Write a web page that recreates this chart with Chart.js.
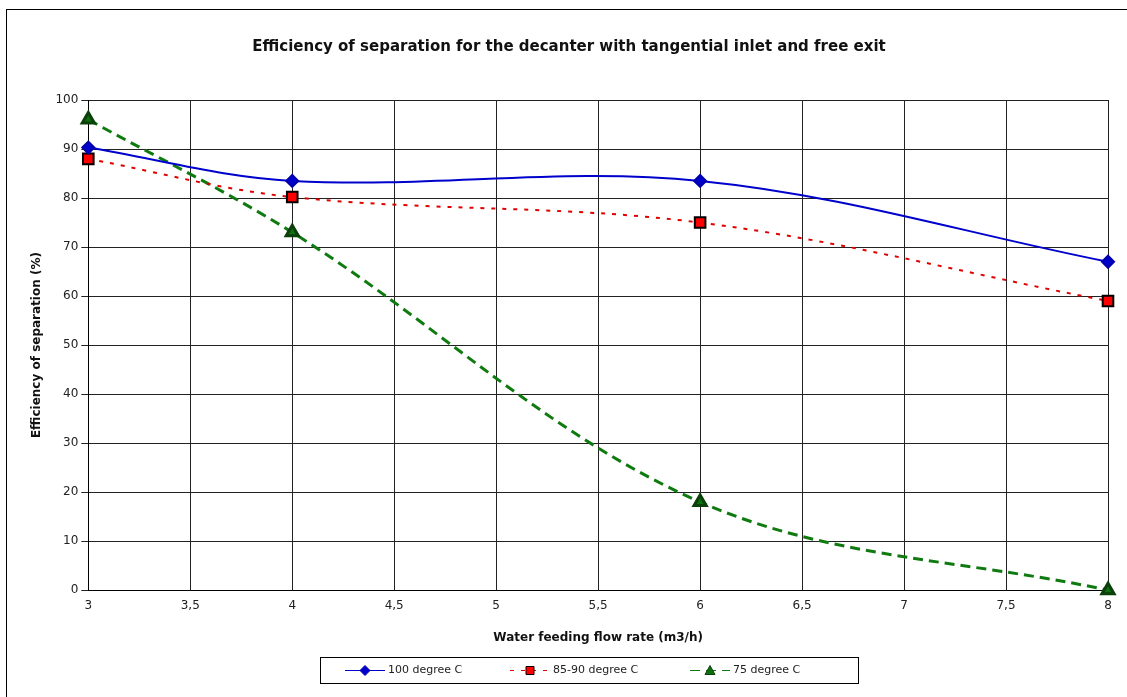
<!DOCTYPE html>
<html lang="en">
<head>
    <meta charset="UTF-8">
    <title>Efficiency of separation</title>
    <style>
        body {
            margin: 0;
            background: #ffffff;
        }
        .frame {
            position: absolute;
            left: 6px;
            top: 9px;
            width: 1200px;
            height: 800px;
            border: 1px solid #000;
        }
        .chart-box {
            position: absolute;
            left: 0;
            top: 0;
            width: 1127px;
            height: 697px;
        }
    </style>
</head>
<body>
    <div class="frame"></div>
    <div class="chart-box">
        <canvas id="sepChart" width="1127" height="697"></canvas>
    </div>

    <script src="https://cdn.jsdelivr.net/npm/chart.js"></script>
    <script>
        // Datos
        const flowRates = [3, 4, 6, 8];
        const eff100 = [90.3, 83.5, 83.5, 67];
        const eff8590 = [88, 80.2, 75, 59];
        const eff75 = [96, 73, 18, 0];
        const seriesNames = ['100 degree C', '85-90 degree C', '75 degree C'];
        const xTicks = [3, 3.5, 4, 4.5, 5, 5.5, 6, 6.5, 7, 7.5, 8];
        const yTicks = [0, 10, 20, 30, 40, 50, 60, 70, 80, 90, 100];

        const FONT = '"DejaVu Sans", Verdana, sans-serif';
        const toPoints = (vals) => flowRates.map((x, i) => ({ x: x, y: vals[i] }));

        // Leyenda dibujada a mano: linea + marcador dentro de un recuadro
        const boxLegend = {
            id: 'boxLegend',
            afterDraw(chart) {
                const c = chart.ctx;
                const left = 320, top = 657, w = 538, h = 26;
                c.save();
                c.strokeStyle = '#000';
                c.lineWidth = 1;
                c.strokeRect(left + 0.5, top + 0.5, w, h);
                const starts = [345, 510, 690];
                const midY = top + h / 2 + 0.5;
                chart.data.datasets.forEach((ds, i) => {
                    const x0 = starts[i];
                    c.strokeStyle = ds.borderColor;
                    c.lineWidth = 1;
                    c.setLineDash(ds.borderDash || []);
                    c.beginPath();
                    c.moveTo(x0, midY);
                    c.lineTo(x0 + 40, midY);
                    c.stroke();
                    c.setLineDash([]);
                    c.fillStyle = ds.pointBackgroundColor;
                    c.strokeStyle = ds.pointBorderColor;
                    const mx = x0 + 20, r = 5;
                    c.beginPath();
                    if (ds.pointStyle === 'rectRot') {
                        c.moveTo(mx, midY - r); c.lineTo(mx + r, midY);
                        c.lineTo(mx, midY + r); c.lineTo(mx - r, midY);
                    } else if (ds.pointStyle === 'rect') {
                        c.rect(mx - 4, midY - 4, 8, 8);
                    } else {
                        c.moveTo(mx, midY - 5); c.lineTo(mx + 5, midY + 4);
                        c.lineTo(mx - 5, midY + 4);
                    }
                    c.closePath();
                    c.fill();
                    c.stroke();
                    c.fillStyle = '#222';
                    c.font = '11px ' + FONT;
                    c.textBaseline = 'middle';
                    c.fillText(ds.label, x0 + 43, midY);
                });
                c.restore();
            }
        };

        const ctx = document.getElementById('sepChart').getContext('2d');
        const sepChart = new Chart(ctx, {
            type: 'line',
            data: {
                datasets: [{
                    label: seriesNames[0],
                    data: toPoints(eff100),
                    borderColor: '#0000cc',
                    borderWidth: 2,
                    pointStyle: 'rectRot',
                    pointRadius: 6,
                    pointBackgroundColor: '#0000cc',
                    pointBorderColor: '#0000aa',
                    tension: 0.35,
                    clip: false
                }, {
                    label: seriesNames[1],
                    data: toPoints(eff8590),
                    borderColor: '#e00000',
                    borderWidth: 2,
                    borderDash: [4, 7],
                    pointStyle: 'rect',
                    pointRadius: 7.5,
                    pointBackgroundColor: '#ff0000',
                    pointBorderColor: '#000000',
                    tension: 0.35,
                    clip: false
                }, {
                    label: seriesNames[2],
                    data: toPoints(eff75),
                    borderColor: '#0f7a0f',
                    borderWidth: 3,
                    borderDash: [10, 6],
                    pointStyle: 'triangle',
                    pointRadius: 7,
                    pointBackgroundColor: '#0f6e0f',
                    pointBorderColor: '#0a400a',
                    tension: 0.35,
                    clip: false
                }]
            },
            options: {
                responsive: false,
                animation: false,
                layout: {
                    padding: { left: 30, right: 19, top: 0, bottom: 52 }
                },
                plugins: {
                    legend: { display: false },
                    tooltip: { enabled: false },
                    title: {
                        display: true,
                        text: 'Efficiency of separation for the decanter with tangential inlet and free exit',
                        color: '#111',
                        font: { family: FONT, size: 15, weight: 'bold' },
                        padding: { top: 38, bottom: 44 }
                    }
                },
                scales: {
                    x: {
                        type: 'linear',
                        min: 3,
                        max: 8,
                        afterBuildTicks: (axis) => { axis.ticks = xTicks.map(v => ({ value: v })); },
                        ticks: {
                            color: '#222',
                            font: { family: FONT, size: 12 },
                            padding: 8,
                            maxRotation: 0,
                            callback: (v) => String(v).replace('.', ',')
                        },
                        grid: { color: '#222', lineWidth: 1, tickLength: 0 },
                        border: { color: '#000', width: 1 },
                        title: {
                            display: true,
                            text: 'Water feeding flow rate (m3/h)',
                            color: '#111',
                            font: { family: FONT, size: 12, weight: 'bold' },
                            padding: { top: 10, bottom: 0 }
                        }
                    },
                    y: {
                        min: 0,
                        max: 100,
                        afterBuildTicks: (axis) => { axis.ticks = yTicks.map(v => ({ value: v })); },
                        ticks: {
                            color: '#222',
                            font: { family: FONT, size: 12 },
                            padding: 3
                        },
                        grid: { color: '#222', lineWidth: 1, tickLength: 7 },
                        border: { color: '#000', width: 1 },
                        title: {
                            display: true,
                            text: 'Efficiency of separation (%)',
                            color: '#111',
                            font: { family: FONT, size: 12, weight: 'bold' },
                            padding: { top: 0, bottom: 8 }
                        }
                    }
                }
            },
            plugins: [boxLegend]
        });
    </script>
</body>
</html>
